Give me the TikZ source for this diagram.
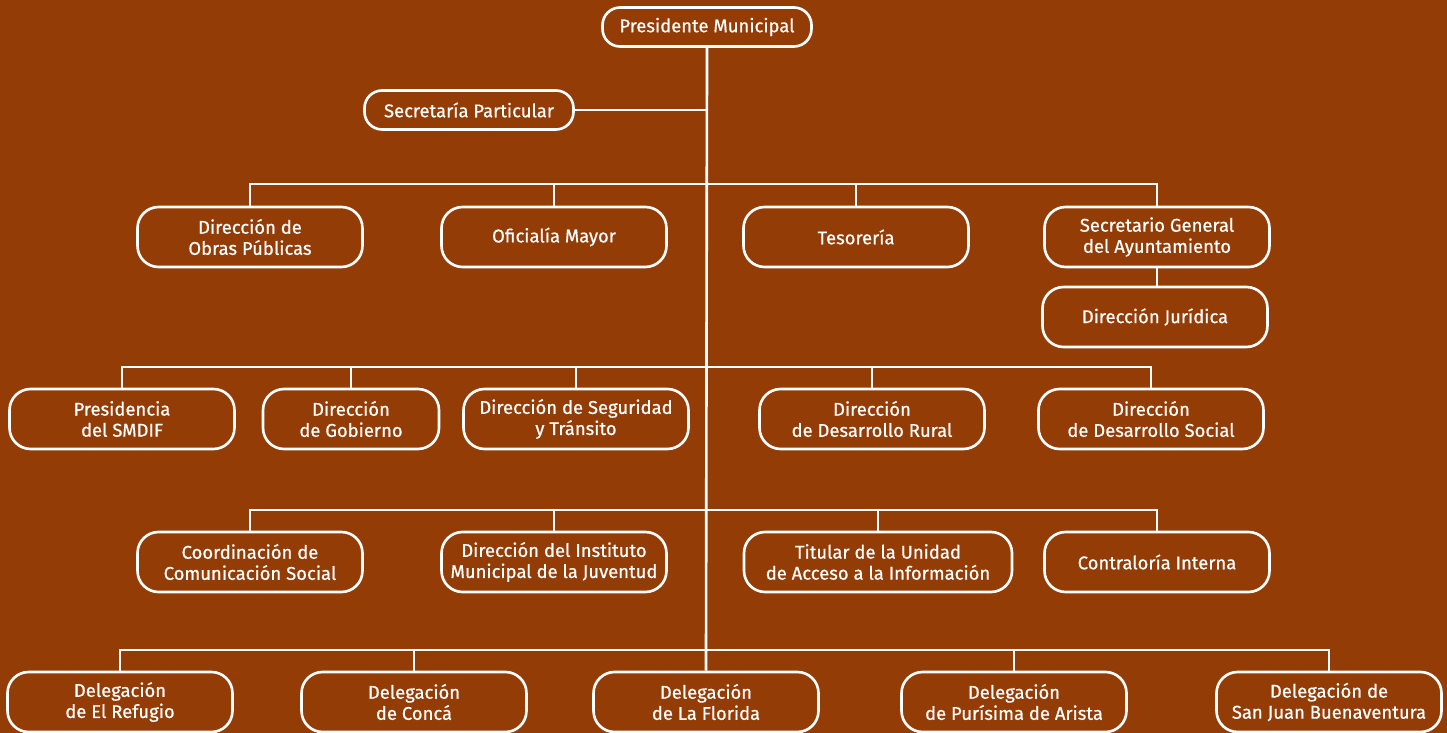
\documentclass[tikz,border=0pt]{standalone}
\usepackage{fontspec}
\newfontfamily\boxfont{Fira Sans}[FakeBold=0.6]
\definecolor{bg}{RGB}{147,60,6}
\begin{document}
\begin{tikzpicture}[x=0.02cm,y=-0.02cm,
  unit/.style = {draw=white, line width=1.5pt, rounded corners=12pt, text=white, align=center, inner sep=1pt, minimum width=4.5cm, minimum height=1.2cm, font=\boxfont\fontsize{10.5}{12}\selectfont},
  top/.style = {unit, minimum width=4.18cm, minimum height=0.78cm, rounded corners=10pt},
  link/.style = {draw=white, line width=1.5pt}]
        \fill[bg] (0,0) rectangle (1447,733);
        \useasboundingbox (0,0) rectangle (1447,733);
        \node[top] (pres) at (707,27) {Presidente Municipal};
        \node[top] (secpart) at (469,110) {Secretaría Particular};
        \node[unit] (obras) at (250,237) {Dirección de\\Obras Públicas};
        \node[unit] (oficialia) at (554,237) {Oficialía Mayor};
        \node[unit] (tesoreria) at (856,237) {Tesorería};
        \node[unit] (secgen) at (1157,237) {Secretario General\\del Ayuntamiento};
        \node[unit] (juridica) at (1155,317) {Dirección Jurídica};
        \node[unit] (smdif) at (122,419) {Presidencia\\del SMDIF};
        \node[unit, minimum width=3.52cm] (gobierno) at (351,419) {Dirección\\de Gobierno};
        \node[unit] (seguridad) at (576,419) {Dirección de Seguridad\\y Tránsito};
        \node[unit] (rural) at (872,419) {Dirección\\de Desarrollo Rural};
        \node[unit] (social) at (1151,419) {Dirección\\de Desarrollo Social};
        \node[unit] (comunicacion) at (250,562) {Coordinación de\\Comunicación Social};
        \node[unit] (juventud) at (554,562) {Dirección del Instituto\\Municipal de la Juventud};
        \node[unit, minimum width=5.36cm] (acceso) at (878,562) {Titular de la Unidad\\de Acceso a la Información};
        \node[unit] (contraloria) at (1157,562) {Contraloría Interna};
        \node[unit] (refugio) at (120,702) {Delegación\\de El Refugio};
        \node[unit] (conca) at (414,702) {Delegación\\de Concá};
        \node[unit] (florida) at (706,702) {Delegación\\de La Florida};
        \node[unit] (purisima) at (1014,702) {Delegación\\de Purísima de Arista};
        \node[unit] (sanjuan) at (1329,702) {Delegación de\\San Juan Buenaventura};
        \coordinate (bus1) at (706,184);
        \coordinate (bus2) at (706,367);
        \coordinate (bus3) at (706,510);
        \coordinate (bus4) at (706,650);
        \draw[link] (pres.south) -- (florida.north);
        \draw[link] (secpart.east) -- (secpart.east -| pres.south);
        \foreach \n in {obras, oficialia, tesoreria, secgen}
            \draw[link] (\n.north) |- (bus1);
        \draw[link] (secgen.south) -- (juridica.north -| secgen.south);
        \foreach \n in {smdif, gobierno, seguridad, rural, social}
            \draw[link] (\n.north) |- (bus2);
        \foreach \n in {comunicacion, juventud, acceso, contraloria}
            \draw[link] (\n.north) |- (bus3);
        \foreach \n in {refugio, conca, purisima, sanjuan}
            \draw[link] (\n.north) |- (bus4);
\end{tikzpicture}
\end{document}
